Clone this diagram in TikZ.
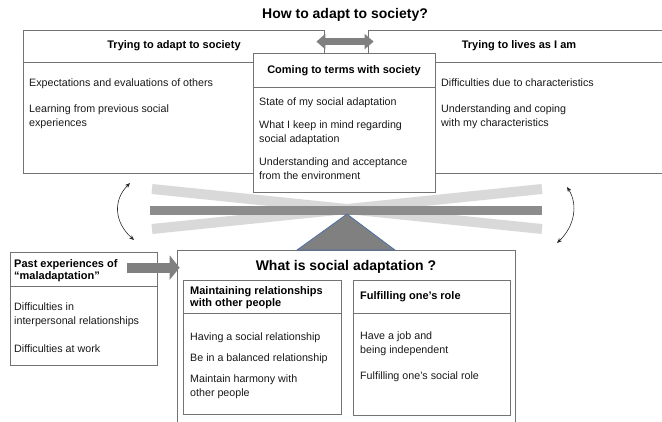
\documentclass[tikz,border=0pt]{standalone}
\usepackage{fontspec}
\setmainfont{Liberation Sans}
\usetikzlibrary{arrows.meta}
\definecolor{rim}{HTML}{4A6EA8}

\begin{document}
\begin{tikzpicture}[x=1pt, y=-1pt, font=\fontsize{10.7}{13.5}\selectfont, >={Stealth[length=5pt, width=4pt]},
  edge/.style={draw=black!55, line width=0.8pt},
  panel/.style={edge, fill=white, inner sep=0pt},
  head/.style={font=\fontsize{11}{12.5}\selectfont\bfseries},
  title/.style={font=\fontsize{14}{16}\selectfont\bfseries},
  item/.style={anchor=north west, align=left, inner sep=0pt, text=black!90},
  hitem/.style={item, head, text=black},
  fatboth/.style={draw=black!50, line width=7pt,
                  {Triangle[width=15pt, length=9pt]}-{Triangle[width=15pt, length=9pt]}},
  fat/.style={draw=black!50, line width=10pt, -{Triangle[width=24pt, length=10pt]}},
  swing/.style={<->, line width=0.6pt, black!85},
  bar/.style={line width=10pt, black!15}]
  \useasboundingbox (0,0) rectangle (662,421);

  \node[title] (ask) at (345,15) {How to adapt to society?};

  \node[panel, minimum width=301pt, minimum height=143pt] (adapt) at (173.5,101.5) {};
  \draw[edge] (adapt.west |- 0,62) -- (adapt.east |- 0,62);
  \node[head] (adapthd) at (174,46) {Trying to adapt to society};
  \node[item] (a1) at (29,79) {Expectations and evaluations of others};
  \node[item] (a2) at (29,105) {Learning from previous social\\experiences};

  \node[panel, minimum width=296pt, minimum height=143pt] (self) at (516,101.5) {};
  \draw[edge] (self.west |- 0,62) -- (self.east |- 0,62);
  \node[head] (selfhd) at (519,46) {Trying to lives as I am};
  \node[item] (s1) at (441,79) {Difficulties due to characteristics};
  \node[item] (s2) at (441,105) {Understanding and coping\\with my characteristics};

  \node[panel, minimum width=182pt, minimum height=139pt] (terms) at (344,122.5) {};
  \draw[edge] (terms.west |- 0,87) -- (terms.east |- 0,87);
  \node[head] (termshd) at (344,71) {Coming to terms with society};
  \node[item] (t1) at (259,98) {State of my social adaptation};
  \node[item] (t2) at (259,121) {What I keep in mind regarding\\social adaptation};
  \node[item] (t3) at (259,158) {Understanding and acceptance\\from the environment};

  \draw[fatboth] ([shift={(-8,12)}]adapt.north east) -- ([shift={(6,12)}]self.north west);

  \draw[bar] (152,189) -- (542,229);
  \draw[bar] (152,229) -- (542,189);
  \draw[line width=9pt, black!45] (150,210) -- (542,210);

  \coordinate (swl1) at (130,183);
  \coordinate (swl2) at (134,240);
  \coordinate (swr1) at (567,187);
  \coordinate (swr2) at (557,243);
  \draw[swing] (swl1) .. controls (113,200) and (114,222) .. (swl2);
  \draw[swing] (swr1) .. controls (578,204) and (575,226) .. (swr2);

  \node[panel, minimum width=338pt, minimum height=175pt] (social) at (346,337.5) {};
  \filldraw[fill=black!50, draw=rim, line width=0.7pt] (347,214) -- (297,250) -- (395,250) -- cycle;
  \node[title] (socialhd) at (346,267) {What is social adaptation ?};

  \node[panel, minimum width=158pt, minimum height=134pt] (bond) at (262,347) {};
  \draw[edge] (bond.west |- 0,313) -- (bond.east |- 0,313);
  \node[hitem] (bondhd) at (190,286) {Maintaining relationships\\with other people};
  \node[item] (b1) at (190,333) {Having a social relationship};
  \node[item] (b2) at (190,354) {Be in a balanced relationship};
  \node[item] (b3) at (190,375) {Maintain harmony with\\other people};

  \node[panel, minimum width=157pt, minimum height=135pt] (role) at (431.5,347.5) {};
  \draw[edge] (role.west |- 0,313) -- (role.east |- 0,313);
  \node[hitem] (rolehd) at (360,291) {Fulfilling one's role};
  \node[item] (r1) at (360,332) {Have a job and\\being independent};
  \node[item] (r2) at (360,372) {Fulfilling one's social role};

  \node[panel, minimum width=147pt, minimum height=113pt] (past) at (83.5,308.5) {};
  \draw[edge] (past.west |- 0,286) -- (past.east |- 0,286);
  \node[hitem] (pasthd) at (14,259) {Past experiences of\\“maladaptation”};
  \node[item] (p1) at (14,303) {Difficulties in\\interpersonal relationships};
  \node[item] (p2) at (14,345) {Difficulties at work};

  \draw[fat] ([shift={(-30,16)}]past.north east) -- ([shift={(3,18)}]social.north west);
\end{tikzpicture}
\end{document}
